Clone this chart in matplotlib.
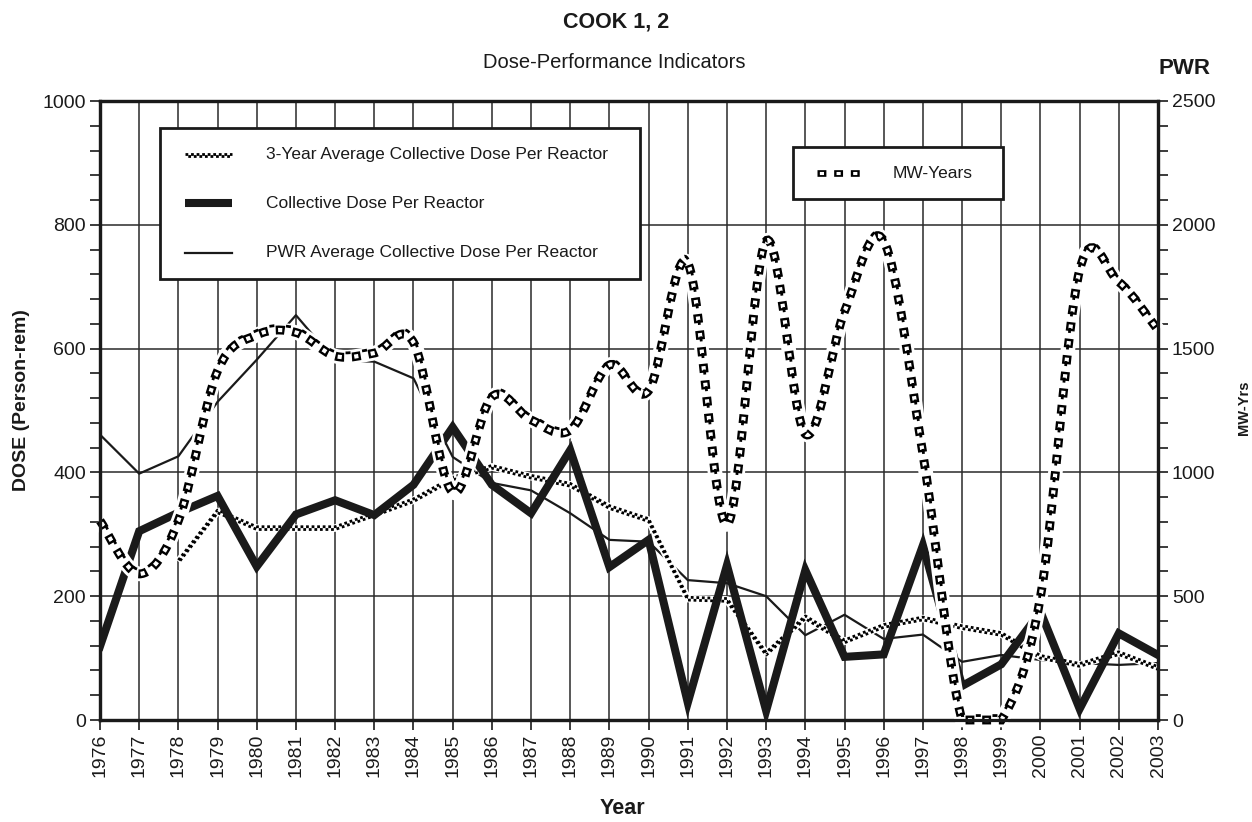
import numpy as np
import matplotlib
matplotlib.use('Agg')
import matplotlib.pyplot as plt
from matplotlib.path import Path
from matplotlib.patches import PathPatch, Rectangle
from matplotlib.lines import Line2D
from matplotlib import font_manager
import matplotlib.transforms as mtransforms

# ---------------- data ----------------
years = list(range(1976, 2004))
collective_dose = [119, 305, 335, 362, 248, 332, 355, 331, 380, 473, 380, 334, 436, 247,
                   291, 28, 250, 15, 242, 102, 106, 282, 55, 90, 175, 18, 140, 105]
three_year_avg = [np.nan, np.nan, 256, 337, 310, 310, 310, 332, 355, 390, 409, 393, 380, 344,
                  323, 196, 194, 107, 166, 127, 152, 164, 150, 139, 102, 89, 108, 84]
pwr_avg = [461, 398, 426, 514, 582, 654, 580, 579, 552, 425, 383, 371, 334, 291,
           288, 226, 221, 200, 137, 170, 131, 138, 94, 105, 97, 92, 89, 92]
mw_years = [805, 590, 805, 1410, 1555, 1565, 1470, 1482, 1525, 920, 1305, 1212, 1171, 1434,
            1330, 1845, 790, 1935, 1155, 1650, 1935, 1075, 0, 0, 497, 1817, 1769, 1575]

dose_ticks = [0, 200, 400, 600, 800, 1000]
mw_ticks = [0, 500, 1000, 1500, 2000, 2500]
title = "COOK 1, 2"
subtitle = "Dose-Performance Indicators"
corner = "PWR"
legend_labels = ["3-Year Average Collective Dose Per Reactor",
                 "Collective Dose Per Reactor",
                 "PWR Average Collective Dose Per Reactor"]
mw_label = "MW-Years"


def has_font(name):
    try:
        font_manager.findfont(font_manager.FontProperties(family=name), fallback_to_default=False)
        return True
    except Exception:
        return False


NARROW = 'Liberation Sans Narrow' if has_font('Liberation Sans Narrow') else 'Liberation Sans'
narrow_size = 14.5 if NARROW == 'Liberation Sans Narrow' else 12.5
plt.rcParams['font.family'] = ['Liberation Sans', 'DejaVu Sans']
plt.rcParams['lines.scale_dashes'] = False

INK = '#1a1a1a'
W, H = 1252, 822
L, R, T, B = 100, 1158, 101, 720

fig = plt.figure(figsize=(W / 100, H / 100), dpi=100)
ax = fig.add_axes([L / W, 1 - B / H, (R - L) / W, (B - T) / H])
ax2 = ax.twinx()

ax.set_xlim(years[0], years[-1])
ax.set_ylim(0, 1000)
ax2.set_ylim(0, 2500)

ax.set_xticks(years)
ax.set_xticklabels([str(y) for y in years], rotation=90)
ax.set_yticks(dose_ticks)
ax.set_yticklabels([str(v) for v in dose_ticks])
ax.set_yticks(np.arange(0, 1001, 40), minor=True)
ax2.set_yticks(mw_ticks)
ax2.set_yticklabels([str(v) for v in mw_ticks])
ax2.set_yticks(np.arange(0, 2501, 100), minor=True)

ax.grid(True, which='major', color='#2a2a2a', lw=1.1)
ax.set_axisbelow(True)

for a in (ax, ax2):
    a.tick_params(axis='both', which='both', direction='out', length=7, width=1.2,
                  color=INK, labelsize=14, labelcolor=INK, pad=3)
    for s in a.spines.values():
        s.set_linewidth(2.3)
        s.set_color(INK)
        s.set_zorder(6)

# PWR average - thin line
ax.plot(years, pwr_avg, color=INK, lw=1.6, zorder=3)

# 3-year average - checkered band
DOT = 2.0
ax.plot(years, three_year_avg, color='white', lw=5.4, zorder=3.1, solid_capstyle='butt')
up = ax.transData + mtransforms.ScaledTranslation(0, 1.0 / 72, fig.dpi_scale_trans)
dn = ax.transData + mtransforms.ScaledTranslation(0, -1.0 / 72, fig.dpi_scale_trans)
ax.plot(years, three_year_avg, color='black', lw=DOT, linestyle=(0, (DOT, DOT)),
        transform=up, zorder=3.2)
ax.plot(years, three_year_avg, color='black', lw=DOT, linestyle=(DOT, (DOT, DOT)),
        transform=dn, zorder=3.2)

# Collective dose - thick line
ax.plot(years, collective_dose, color=INK, lw=5.8, zorder=3.5, solid_joinstyle='miter')

# MW-Years - smoothed band with hollow squares (Bezier through data points)
xs = np.array(years, float)
ys = np.array(mw_years, float)
n = len(xs)
verts = [(xs[0], ys[0])]
codes = [Path.MOVETO]
for i in range(n - 1):
    p0 = np.array([xs[max(i - 1, 0)], ys[max(i - 1, 0)]])
    p1 = np.array([xs[i], ys[i]])
    p2 = np.array([xs[i + 1], ys[i + 1]])
    p3 = np.array([xs[min(i + 2, n - 1)], ys[min(i + 2, n - 1)]])
    c1 = p1 + (p2 - p0) / 6.0
    c2 = p2 - (p3 - p1) / 6.0
    c1[1] = max(c1[1], 0.0)
    c2[1] = max(c2[1], 0.0)
    verts += [tuple(c1), tuple(c2), tuple(p2)]
    codes += [Path.CURVE4] * 3
mw_path = Path(verts, codes)

PER = 12.0
SQ = 6.4
IN = 3.0


def mw_styles():
    return [
        dict(edgecolor='white', lw=10.5, linestyle='-'),
        dict(edgecolor='black', lw=SQ, linestyle=(0, (SQ, PER - SQ))),
        dict(edgecolor='white', lw=IN, linestyle=(PER - (SQ - IN) / 2, (IN, PER - IN))),
    ]


for k, st in enumerate(mw_styles()):
    pp = PathPatch(mw_path, facecolor='none', capstyle='butt', zorder=4 + k * 0.1,
                   clip_on=False, **st)
    ax2.add_patch(pp)
tick_tr = ax2.transData + mtransforms.ScaledTranslation(0, 3.2 / 72, fig.dpi_scale_trans)
ax2.add_patch(PathPatch(mw_path, facecolor='none', edgecolor='black', lw=2.0,
                        linestyle=(PER - SQ - 1.0, (3.6, PER - 3.6)), capstyle='butt',
                        transform=tick_tr, zorder=4.4, clip_on=False))

# ---------------- legends (drawn in figure pixels) ----------------
def fx(x):
    return x / W


def fy(y):
    return 1 - y / H


fig.add_artist(Rectangle((fx(160), fy(279)), (640 - 160) / W, (279 - 128) / H,
                         transform=fig.transFigure, facecolor='white', edgecolor=INK,
                         lw=2.0, zorder=10))
row_y = [155, 203, 253]
hx = [fx(185), fx(232)]
# 3-year avg handle
fig.add_artist(Line2D(hx, [fy(row_y[0])] * 2, transform=fig.transFigure, color='white',
                      lw=5.4, zorder=11))
fig.add_artist(Line2D(hx, [fy(row_y[0])] * 2, color='black', lw=DOT, linestyle=(0, (DOT, DOT)),
                      transform=fig.transFigure + mtransforms.ScaledTranslation(0, 1.0 / 72, fig.dpi_scale_trans),
                      zorder=11))
fig.add_artist(Line2D(hx, [fy(row_y[0])] * 2, color='black', lw=DOT, linestyle=(DOT, (DOT, DOT)),
                      transform=fig.transFigure + mtransforms.ScaledTranslation(0, -1.0 / 72, fig.dpi_scale_trans),
                      zorder=11))
fig.add_artist(Line2D(hx, [fy(row_y[1])] * 2, transform=fig.transFigure, color=INK,
                      lw=5.8, solid_capstyle='butt', zorder=11))
fig.add_artist(Line2D(hx, [fy(row_y[2])] * 2, transform=fig.transFigure, color=INK,
                      lw=1.6, zorder=11))
for yy, lab in zip(row_y, legend_labels):
    fig.text(fx(266), fy(yy), lab, ha='left', va='center', family=[NARROW, 'DejaVu Sans'],
             fontsize=narrow_size, color=INK, zorder=12)

fig.add_artist(Rectangle((fx(793), fy(199)), (1003 - 793) / W, (199 - 147) / H,
                         transform=fig.transFigure, facecolor='white', edgecolor=INK,
                         lw=2.0, zorder=10))
mx = [fx(817), fx(866)]
for k, st in enumerate(mw_styles()[1:]):
    fig.add_artist(Line2D(mx, [fy(173)] * 2, transform=fig.transFigure,
                          color=st['edgecolor'], lw=st['lw'] * 0.75,
                          linestyle=st['linestyle'], solid_capstyle='butt',
                          dash_capstyle='butt', zorder=11 + k * 0.1))
fig.text(fx(893), fy(173), mw_label, ha='left', va='center', family=[NARROW, 'DejaVu Sans'],
         fontsize=narrow_size, color=INK, zorder=12)

# ---------------- titles & axis labels ----------------
fig.text(fx(616), fy(22), title, ha='center', va='center', fontsize=15.5,
         fontweight='bold', color=INK)
fig.text(fx(614), fy(62), subtitle, ha='center', va='center', fontsize=14.5, color=INK)
fig.text(fx(1185), fy(68), corner, ha='center', va='center', fontsize=16,
         fontweight='bold', color=INK)
fig.text(fx(622), fy(808), "Year", ha='center', va='center', fontsize=15.5,
         fontweight='bold', color=INK)
fig.text(fx(22), fy(400), "DOSE (Person-rem)", ha='center', va='center', rotation=90,
         fontsize=14, fontweight='bold', color=INK)
fig.text(fx(1244), fy(408), "MW-Yrs", ha='center', va='center', rotation=90,
         fontsize=10.5, fontweight='bold', color=INK)

fig.savefig('out.png', dpi=100)
